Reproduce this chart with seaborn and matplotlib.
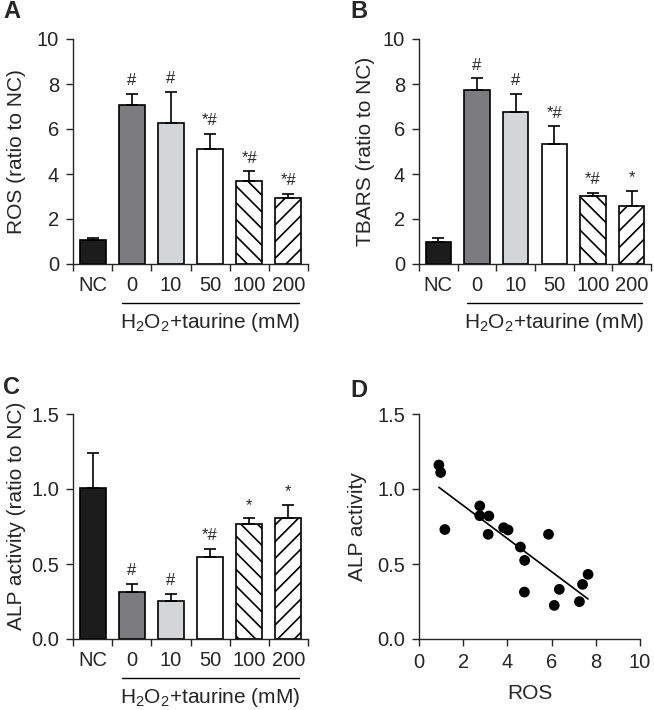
import matplotlib
matplotlib.use('Agg')
import matplotlib.pyplot as plt
import matplotlib.transforms as mtransforms
import numpy as np
import seaborn as sns

# данные
groups = ['NC', '0', '10', '50', '100', '200']
ros_mean = [1.05, 7.05, 6.25, 5.11, 3.70, 2.92]
ros_err = [0.09, 0.52, 1.40, 0.67, 0.42, 0.21]
ros_marks = ['', '#', '#', '*#', '*#', '*#']

tbars_mean = [0.99, 7.72, 6.77, 5.35, 3.01, 2.58]
tbars_err = [0.17, 0.53, 0.80, 0.78, 0.16, 0.68]
tbars_marks = ['', '#', '#', '*#', '*#', '*']

alp_mean = [1.004, 0.316, 0.256, 0.549, 0.764, 0.804]
alp_err = [0.236, 0.053, 0.045, 0.053, 0.040, 0.089]
alp_marks = ['', '#', '#', '*#', '*', '*']

scatter_ros = [0.90, 0.98, 1.17, 2.75, 2.75, 3.16, 3.13, 3.83, 4.03,
               4.59, 4.78, 4.77, 5.86, 6.12, 6.35, 7.26, 7.40, 7.65]
scatter_alp = [1.16, 1.11, 0.73, 0.887, 0.822, 0.82, 0.698, 0.742, 0.727,
               0.613, 0.524, 0.313, 0.698, 0.224, 0.331, 0.249, 0.364, 0.431]

bar_colors = ['#1c1c1c', '#7b7c80', '#d4d5d7', 'white', 'white', 'white']
bar_hatches = ['', '', '', '', '\\\\', '//']

sns.set_style('ticks')
plt.rcParams['font.family'] = ['Liberation Sans', 'DejaVu Sans']
plt.rcParams['mathtext.default'] = 'regular'
plt.rcParams['hatch.linewidth'] = 1.2
plt.rcParams['axes.linewidth'] = 1.0

fig = plt.figure(figsize=(6.54, 7.10), dpi=100)
W, H = 654, 710


def add_axes(left, top, width, height):
    return fig.add_axes([left / W, 1 - (top + height) / H, width / W, height / H])


def bar_panel(ax, means, errs, marks, ymax, yticks, ylabel, fmt, label_xy):
    sns.barplot(x=groups, y=means, hue=groups, palette=bar_colors, legend=False,
                width=0.66, edgecolor='black', linewidth=1.2, errorbar=None, ax=ax)
    for bar, h in zip(ax.patches, bar_hatches):
        bar.set_hatch(h)
    pos = np.arange(len(groups))
    ax.errorbar(pos, means, yerr=[np.zeros(len(errs)), errs], fmt='none',
                ecolor='black', elinewidth=1.2, capsize=4.5, capthick=1.2)
    # значки значимости над столбцами
    for x, m, e, t in zip(pos, means, errs, marks):
        if t:
            ax.annotate(t, (x, m + e), xytext=(0, 4), textcoords='offset points',
                        ha='center', va='bottom', fontsize=12)
    ax.set_xlim(-0.5, 5.5)
    ax.set_ylim(0, ymax)
    ax.set_yticks(yticks)
    ax.set_yticklabels([fmt(v) for v in yticks])
    ax.set_xticks(pos)
    ax.set_xticklabels(groups)
    ax.set_xticks(np.arange(-0.5, 6, 1), minor=True)
    ax.tick_params(axis='x', which='major', length=0, pad=8.5, labelsize=14.5)
    ax.tick_params(axis='x', which='minor', length=5, width=1.0, direction='out')
    ax.tick_params(axis='y', length=5, width=1.0, labelsize=14.5, pad=5)
    ax.set_xlabel('')
    ax.set_ylabel(ylabel, fontsize=15)
    ax.yaxis.set_label_coords(*label_xy)
    sns.despine(ax=ax)
    # линия и подпись под группами H2O2+taurine
    tr = mtransforms.blended_transform_factory(ax.transData, ax.transAxes)
    ax.plot([0.74, 5.28], [-0.173, -0.173], color='black', lw=1.0,
            transform=tr, clip_on=False)
    ax.text(3.0, -0.262, 'H$_2$O$_2$+taurine (mM)', transform=tr,
            ha='center', va='center', fontsize=15)


ax_a = add_axes(73, 39, 235, 225)
bar_panel(ax_a, ros_mean, ros_err, ros_marks, 10, [0, 2, 4, 6, 8, 10],
          'ROS (ratio to NC)', lambda v: f'{v:g}', (-0.2, 0.5))
ax_b = add_axes(419, 39, 232, 225)
bar_panel(ax_b, tbars_mean, tbars_err, tbars_marks, 10, [0, 2, 4, 6, 8, 10],
          'TBARS (ratio to NC)', lambda v: f'{v:g}', (-0.19, 0.5))
ax_c = add_axes(73, 414, 235, 225)
bar_panel(ax_c, alp_mean, alp_err, alp_marks, 1.5, [0, 0.5, 1.0, 1.5],
          'ALP activity (ratio to NC)', lambda v: f'{v:.1f}', (-0.2, 0.547))

ax_d = add_axes(419, 414, 221, 225)
sns.regplot(x=scatter_ros, y=scatter_alp, ci=None, truncate=True, ax=ax_d,
            scatter_kws=dict(s=60, color='black', edgecolors='none', alpha=1),
            line_kws=dict(color='black', lw=1.2))
ax_d.set_xlim(0, 10)
ax_d.set_ylim(0, 1.5)
ax_d.set_xticks([0, 2, 4, 6, 8, 10])
ax_d.set_yticks([0, 0.5, 1.0, 1.5])
ax_d.set_yticklabels(['0.0', '0.5', '1.0', '1.5'])
ax_d.tick_params(length=5, width=1.0, labelsize=14.5, pad=5)
ax_d.set_xlabel('ROS', fontsize=15, labelpad=9)
ax_d.set_ylabel('ALP activity', fontsize=15)
ax_d.yaxis.set_label_coords(-0.235, 0.5)
sns.despine(ax=ax_d)

# буквы панелей
for txt, x, y in [('A', 3, 12), ('B', 350, 12), ('C', 3, 387), ('D', 350, 390)]:
    fig.text(x / W, 1 - y / H, txt, fontsize=17, fontweight='bold',
             ha='left', va='center')

fig.savefig('out.png', dpi=100)
